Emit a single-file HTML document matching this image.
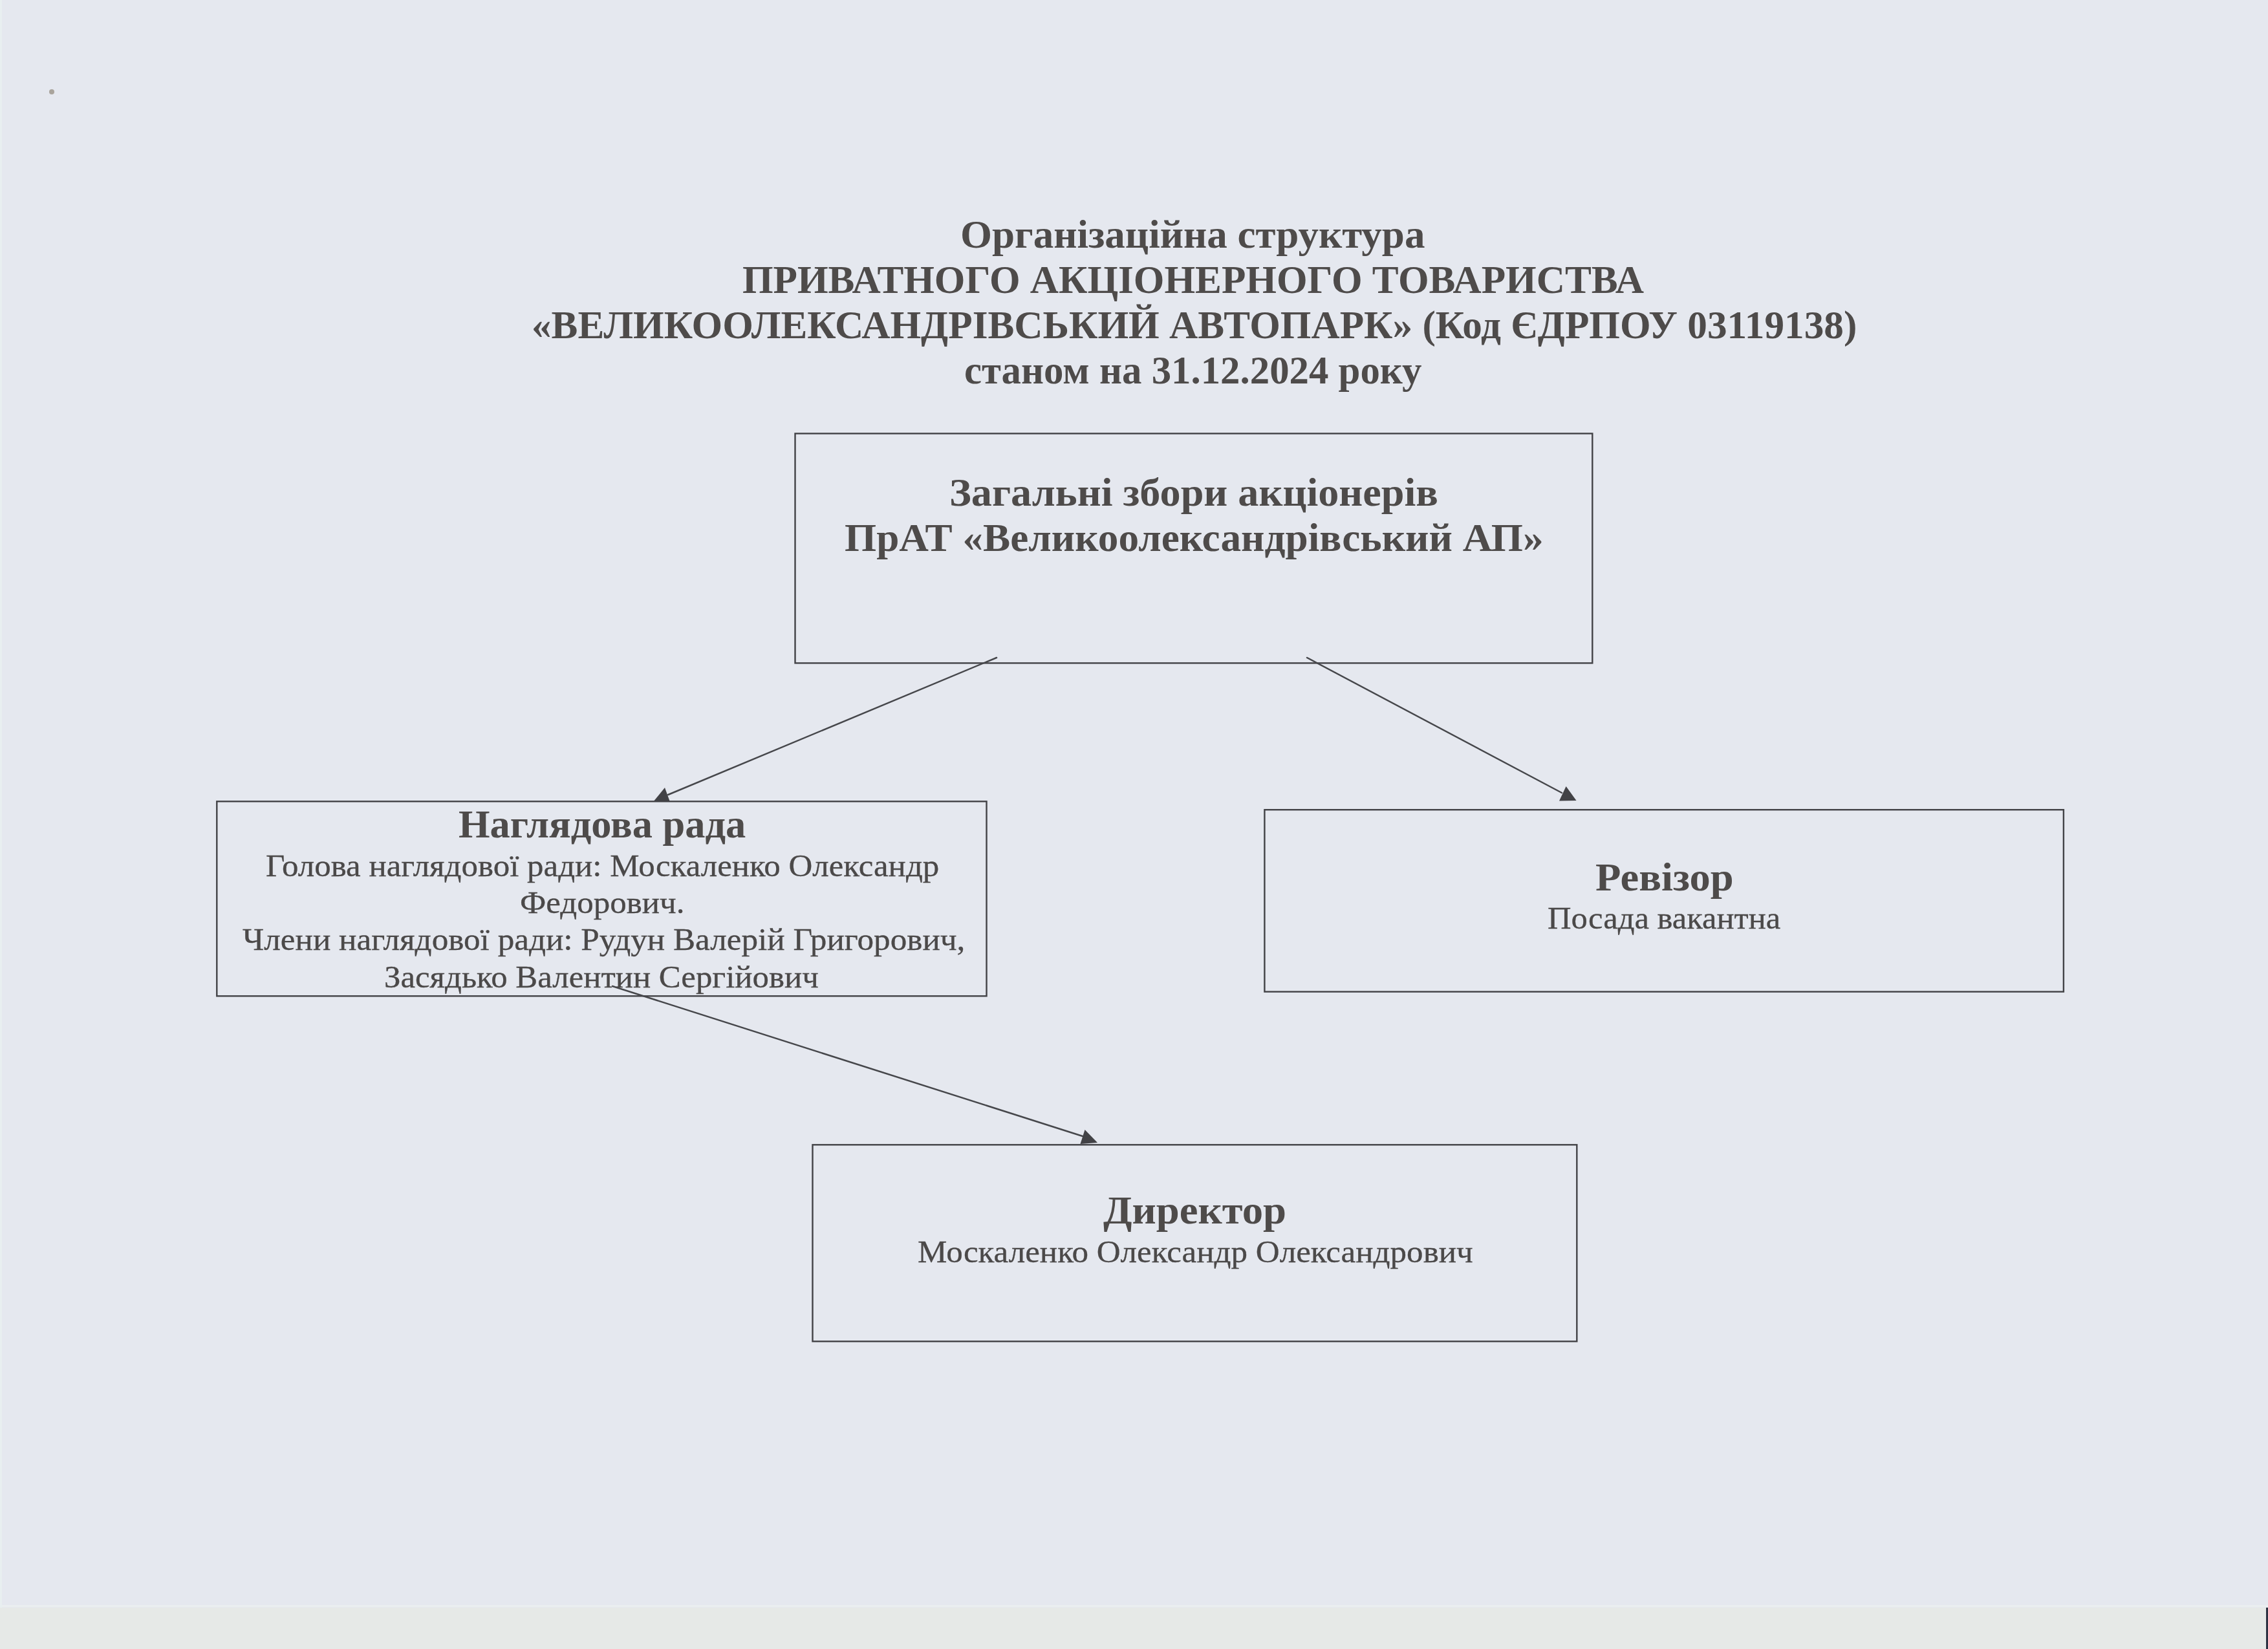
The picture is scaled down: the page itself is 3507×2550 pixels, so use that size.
<!DOCTYPE html>
<html><head><meta charset="utf-8"><style>
html,body{margin:0;padding:0;}
body{width:3507px;height:2550px;position:relative;overflow:hidden;background:#e5e8ef;font-family:"Liberation Serif",serif;color:#4e4b4a;}
.t{position:absolute;white-space:nowrap;transform-origin:0 0;}
.b{font-weight:bold;font-size:61px;line-height:61px;}
.r{font-weight:normal;font-size:48px;line-height:48px;color:#4b4949;-webkit-text-stroke:0.3px #4b4949;}
</style></head><body>

<div style="position:absolute;left:0;top:2486px;width:3507px;height:64px;background:#e6e9e7"></div>
<div style="position:absolute;left:0;top:2482px;width:3507px;height:3px;background:#eaeef0"></div>
<div style="position:absolute;left:0;top:0;width:3px;height:2486px;background:#e8eff0"></div>
<div style="position:absolute;left:76px;top:138px;width:8px;height:8px;border-radius:50%;background:#a9a49c"></div>
<div style="position:absolute;left:3504px;top:2486px;width:3px;height:64px;background:#2c3242"></div>
<svg style="position:absolute;left:0;top:0" width="3507" height="2550" viewBox="0 0 3507 2550">
<g stroke="#424246" stroke-width="2.4" fill="none">
<rect x="1229.5" y="670.4" width="1232.8" height="355.0"/><rect x="335.3" y="1239.3" width="1190.2" height="301.0"/><rect x="1955.4" y="1252.2" width="1235.5" height="281.4"/><rect x="1256.5" y="1770.3" width="1181.8" height="304.0"/>
</g>
<g stroke="#46474b" stroke-width="2.5" fill="none" stroke-linecap="round">
<line x1="1541" y1="1017" x2="1033" y2="1229"/>
<line x1="2021" y1="1017" x2="2415" y2="1226"/>
<line x1="947" y1="1525" x2="1674" y2="1757"/>
</g>
<g fill="#424246">
<polygon points="1028,1218 1010,1240 1036,1240"/>
<polygon points="2421.6,1216 2411,1238.5 2437.5,1238"/>
<polygon points="1677.5,1747 1670.5,1769 1697,1767"/>
</g>
</svg>
<div class="t b" style="left:1485.40px;top:332px;transform:scaleX(1.0330)">Організаційна структура</div>
<div class="t b" style="left:1148.20px;top:402px;transform:scaleX(1.0035)">ПРИВАТНОГО АКЦІОНЕРНОГО ТОВАРИСТВА</div>
<div class="t b" style="left:821.69px;top:472px;transform:scaleX(1.0037)">«ВЕЛИКООЛЕКСАНДРІВСЬКИЙ АВТОПАРК» (Код ЄДРПОУ 03119138)</div>
<div class="t b" style="left:1491.01px;top:542px;transform:scaleX(0.9972)">станом на 31.12.2024 року</div>
<div class="t b" style="left:1467.84px;top:731px;transform:scaleX(1.0520)">Загальні збори акціонерів</div>
<div class="t b" style="left:1305.96px;top:801px;transform:scaleX(1.0366)">ПрАТ «Великоолександрівський АП»</div>
<div class="t b" style="left:708.68px;top:1244px;transform:scaleX(1.0234)">Наглядова рада</div>
<div class="t r" style="left:410.54px;top:1315px;transform:scaleX(1.0617)">Голова наглядової ради: Москаленко Олександр</div>
<div class="t r" style="left:803.57px;top:1372px;transform:scaleX(1.0627)">Федорович.</div>
<div class="t r" style="left:374.73px;top:1429px;transform:scaleX(1.0660)">Члени наглядової ради: Рудун Валерій Григорович,</div>
<div class="t r" style="left:594.38px;top:1487px;transform:scaleX(1.0595)">Засядько Валентин Сергійович</div>
<div class="t b" style="left:2467.04px;top:1326px;transform:scaleX(1.0579)">Ревізор</div>
<div class="t r" style="left:2393.05px;top:1396px;transform:scaleX(1.0543)">Посада вакантна</div>
<div class="t b" style="left:1706.30px;top:1841px;transform:scaleX(1.0608)">Директор</div>
<div class="t r" style="left:1418.74px;top:1912px;transform:scaleX(1.0637)">Москаленко Олександр Олександрович</div>
</body></html>
